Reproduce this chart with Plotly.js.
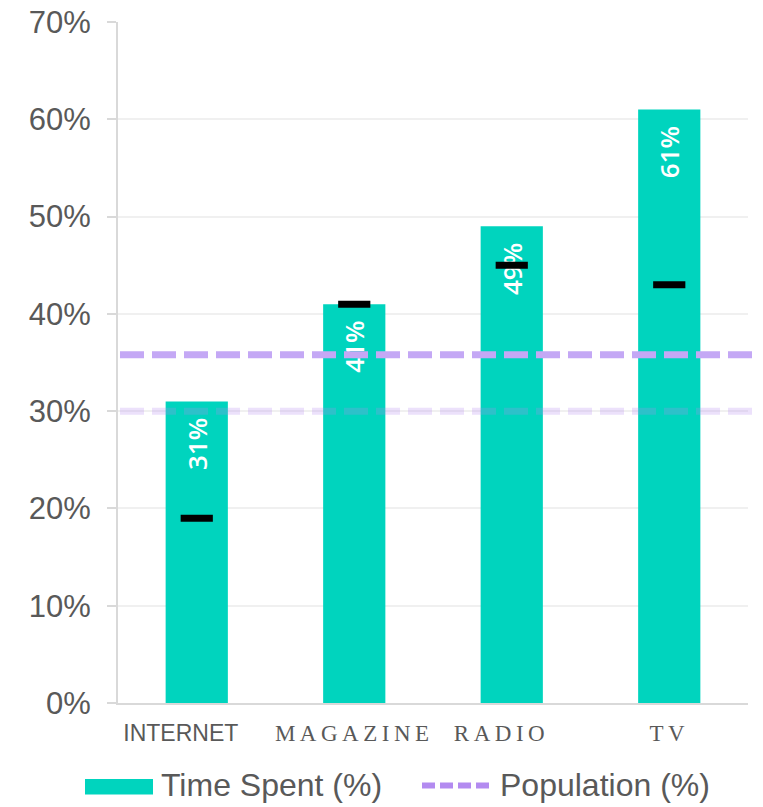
<!DOCTYPE html>
<html>
<head>
<meta charset="utf-8">
<script src="https://cdn.plot.ly/plotly-3.0.1.min.js"></script>
<style>html,body{margin:0;padding:0;background:#fff;}#chart{width:763px;height:807px;}</style>
</head>
<body>
<div id="chart"></div>
<script>
// ---- data ----
const categories = ['INTERNET', 'MAGAZINE', 'RADIO', 'TV'];
const timeSpent = [31, 41, 49, 61];          // bar values (%)
const markerValues = [19, 41, 45, 43];       // black markers (%)
const populationValue = 35.8;                // Population (%) reference line
const faintLineValue = 30;                   // faint reference line
const yTicks = [0, 10, 20, 30, 40, 50, 60, 70];
const seriesNames = ['Time Spent (%)', 'Population (%)'];

// ---- styling helpers ----
const TEAL = '#00D4BE';
const LAV = '#C4A8F5';
const LAV_LEGEND = '#B38BF0';
const GREY_TXT = '#595959';
const serifCats = new Set(['MAGAZINE', 'RADIO', 'TV']);
const trailing = {INTERNET: 5, MAGAZINE: 0, RADIO: 2, TV: 0};

const tickText = categories.map(c => {
  const pad = '&nbsp;'.repeat(trailing[c] || 0);
  if (serifCats.has(c)) {
    return '<span style="font-family:\'Liberation Serif\',\'Times New Roman\',serif;letter-spacing:4.5px">' + c + pad + '</span>';
  }
  return c + pad;
});

const bars = {
  type: 'bar',
  x: categories,
  y: timeSpent,
  name: seriesNames[0],
  marker: {color: TEAL},
  width: 0.395,
  text: timeSpent.map(v => v + '%' + '\u00a0\u00a0'),
  textposition: 'inside',
  insidetextanchor: 'end',
  textangle: -90,
  insidetextfont: {family: 'Open Sans, sans-serif', size: 26, color: '#ffffff', weight: 600},
  hoverinfo: 'skip',
  showlegend: false
};

const marks = {
  type: 'scatter',
  mode: 'markers',
  x: categories,
  y: markerValues,
  marker: {symbol: 'line-ew', size: 23, color: '#000000', line: {color: '#000000', width: 7}},
  hoverinfo: 'skip',
  showlegend: false
};

const pxX = px => (px - 118) / (748 - 118);
const pxY = py => (703 - py) / (703 - 22);

const shapes = [
  {type: 'line', xref: 'paper', yref: 'y', x0: pxX(120), x1: pxX(755), y0: faintLineValue, y1: faintLineValue,
   line: {color: 'rgba(178,136,240,0.25)', width: 7, dash: '24px,8px'}, layer: 'above'},
  {type: 'line', xref: 'paper', yref: 'y', x0: pxX(120), x1: pxX(755), y0: populationValue, y1: populationValue,
   line: {color: LAV, width: 7, dash: '24px,8px'}, layer: 'above'},
  // legend swatches
  {type: 'rect', xref: 'paper', yref: 'paper', x0: pxX(85), x1: pxX(153), y0: pxY(779), y1: pxY(794.5),
   fillcolor: TEAL, line: {width: 0}},
  {type: 'line', xref: 'paper', yref: 'paper', x0: pxX(422), x1: pxX(490), y0: pxY(785.5), y1: pxY(785.5),
   line: {color: LAV_LEGEND, width: 6, dash: '13px,5px'}}
];

const annotations = [
  {xref: 'paper', yref: 'paper', x: pxX(159), y: pxY(785), xanchor: 'left', yanchor: 'middle', showarrow: false,
   text: seriesNames[0], font: {family: 'Liberation Sans, Arial, sans-serif', size: 32, color: GREY_TXT}},
  {xref: 'paper', yref: 'paper', x: pxX(498), y: pxY(785), xanchor: 'left', yanchor: 'middle', showarrow: false,
   text: seriesNames[1], font: {family: 'Liberation Sans, Arial, sans-serif', size: 32, color: GREY_TXT}}
];

const layout = {
  width: 763,
  height: 807,
  margin: {l: 118, r: 15, t: 22, b: 104},
  paper_bgcolor: '#ffffff',
  plot_bgcolor: '#ffffff',
  showlegend: false,
  xaxis: {
    type: 'category',
    tickmode: 'array',
    tickvals: categories,
    ticktext: tickText,
    showline: true,
    linecolor: '#d9d9d9',
    linewidth: 2,
    ticks: '',
    showgrid: false,
    zeroline: false,
    tickfont: {family: 'Liberation Sans, Arial, sans-serif', size: 23, color: GREY_TXT},
    ticklabelstandoff: 8,
    range: [-0.5, 3.5]
  },
  yaxis: {
    range: [0, 70],
    tickmode: 'array',
    tickvals: yTicks,
    ticktext: yTicks.map(v => v + '%'),
    showline: true,
    linecolor: '#d9d9d9',
    linewidth: 2,
    ticks: 'outside',
    ticklen: 9,
    tickwidth: 2,
    tickcolor: '#d9d9d9',
    showgrid: true,
    gridcolor: '#f0f0f0',
    gridwidth: 2,
    zeroline: false,
    tickfont: {family: 'Liberation Sans, Arial, sans-serif', size: 31, color: GREY_TXT},
    ticklabelstandoff: 10
  },
  shapes: shapes,
  annotations: annotations
};

Plotly.newPlot('chart', [bars, marks], layout, {staticPlot: true, displayModeBar: false});
</script>
</body>
</html>
